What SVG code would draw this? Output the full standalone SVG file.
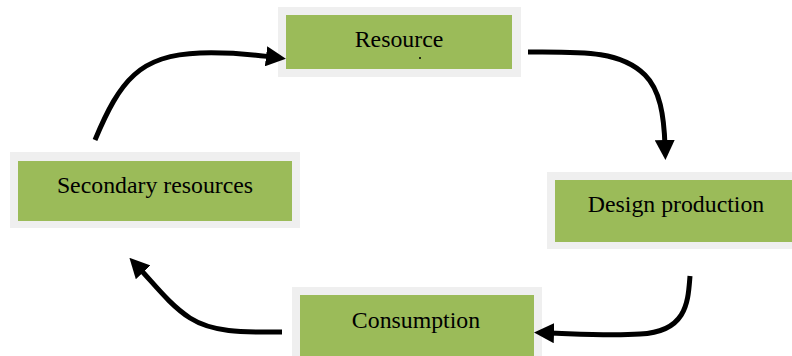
<svg xmlns="http://www.w3.org/2000/svg" width="792" height="356" viewBox="0 0 792 356">
<style>
.outer{fill:#efefef}
.inner{fill:#9bbb59}
.lbl{font-family:"Liberation Serif","Times New Roman",serif;font-size:23.8px;fill:#000;text-anchor:middle}
.con{fill:none;stroke:#000;stroke-width:5}
</style>
<defs>
<marker id="ah" markerWidth="4" markerHeight="4" refX="1.2" refY="2" orient="auto" markerUnits="strokeWidth">
<path d="M0,0 L4,2 L0,4 z" fill="#000"/>
</marker>
</defs>
<rect width="792" height="356" fill="#fff"/>
<g id="node-resource">
<rect class="outer" x="278" y="7" width="243" height="70"/>
<rect class="inner" x="286" y="15" width="226" height="54"/>
<text class="lbl" x="399" y="47">Resource</text>
<circle cx="420" cy="58" r="1" fill="#000"/>
</g>
<g id="node-design">
<rect class="outer" x="547" y="172" width="245" height="77"/>
<rect class="inner" x="555" y="180" width="237" height="62"/>
<text class="lbl" x="676" y="212">Design production</text>
</g>
<g id="node-consumption">
<rect class="outer" x="292" y="287" width="250" height="69"/>
<rect class="inner" x="300" y="295" width="234" height="61"/>
<text class="lbl" x="416" y="328">Consumption</text>
</g>
<g id="node-secondary">
<rect class="outer" x="10" y="152" width="290" height="76"/>
<rect class="inner" x="18" y="161" width="274" height="60"/>
<text class="lbl" x="155" y="193">Secondary resources</text>
</g>
<g id="connectors">
<path class="con" marker-end="url(#ah)" d="M95,140 C120,80 140,55 200,53 C235,52 255,55 272,57"/>
<path class="con" marker-end="url(#ah)" d="M528,52 C580,52 620,50 645,75 C660,90 664,115 665,146"/>
<path class="con" marker-end="url(#ah)" d="M690,276 C688,300 688,332 640,334 C610,336 580,334 548,333"/>
<path class="con" marker-end="url(#ah)" d="M282,332 C250,332 215,334 190,318 C170,305 155,285 139,268"/>
</g>
</svg>
